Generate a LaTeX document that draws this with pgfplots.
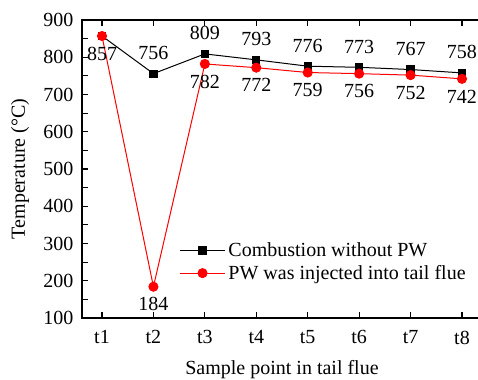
\documentclass[border=0pt]{standalone}
\usepackage{fontspec}
\setmainfont{Liberation Serif}
\usepackage{pgfplots}
\pgfplotsset{compat=1.18}
\begin{document}
\begin{tikzpicture}
\path[use as bounding box] (-61.5pt,-45.75pt) rectangle (297pt,238.5pt);
\begin{axis}[
  at={(0,0)}, anchor=south west,
  scale only axis, width=300pt, height=223.5pt,
  xmin=0.611, xmax=8.389, ymin=100, ymax=900,
  xtick={1,2,3,4,5,6,7,8},
  xticklabels={t1,t2,t3,t4,t5,t6,t7,t8},
  ytick={100,200,300,400,500,600,700,800,900},
  minor y tick num=1,
  tick align=inside,
  xtick pos=both, ytick pos=left,
  major tick length=4.5pt, minor tick length=4.5pt,
  axis line style={line width=1pt},
  tick style={line width=0.8pt, black},
  /pgf/number format/assume math mode=true,
  tick label style={font=\fontsize{15}{18}\selectfont},
  xticklabel style={yshift=-6pt},
  yticklabel style={xshift=-3pt},
  label style={font=\fontsize{15}{18}\selectfont},
  xlabel={Sample point in tail flue},
  ylabel={Temperature (°C)},
  xlabel style={at={(axis description cs:0.5,-0.1745)}, anchor=center},
  ylabel style={at={(axis description cs:-0.155,0.5)}, anchor=center},
  legend style={at={(axis description cs:0.2325,0.272)}, anchor=north west, draw=none, fill=none,
    font=\fontsize{15}{18}\selectfont, row sep=1pt},
  legend cell align=left,
  legend image code/.code={\draw[mark repeat=2,mark phase=2] plot coordinates {(0cm,0cm) (0.6cm,0cm) (1.2cm,0cm)};},
  every node near coord/.append style={font=\fontsize{15}{18}\selectfont, black},
]
\addplot[black, line width=0.75pt, mark=square*, mark size=2.7pt] coordinates {
(1,857) (2,756) (3,809) (4,793) (5,776) (6,773) (7,767) (8,758)};
\addlegendentry{Combustion without PW}
\addplot[red, line width=0.75pt, mark=*, mark size=3.4pt] coordinates {
(1,857) (2,184) (3,782) (4,772) (5,759) (6,756) (7,752) (8,742)};
\addlegendentry{PW was injected into tail flue}
\addplot[draw=none, forget plot, nodes near coords, point meta=explicit symbolic,
  every node near coord/.append style={anchor=center, yshift=15.4pt}] coordinates {
(2,756) [756] (3,809) [809] (4,793) [793] (5,776) [776] (6,773) [773] (7,767) [767] (8,758) [758]};
\addplot[draw=none, forget plot, nodes near coords, point meta=explicit symbolic,
  every node near coord/.append style={anchor=center, yshift=-13.2pt}] coordinates {
(1,857) [857] (2,184) [184] (3,782) [782] (4,772) [772] (5,759) [759] (6,756) [756] (7,752) [752] (8,742) [742]};
\end{axis}
\end{tikzpicture}
\end{document}
